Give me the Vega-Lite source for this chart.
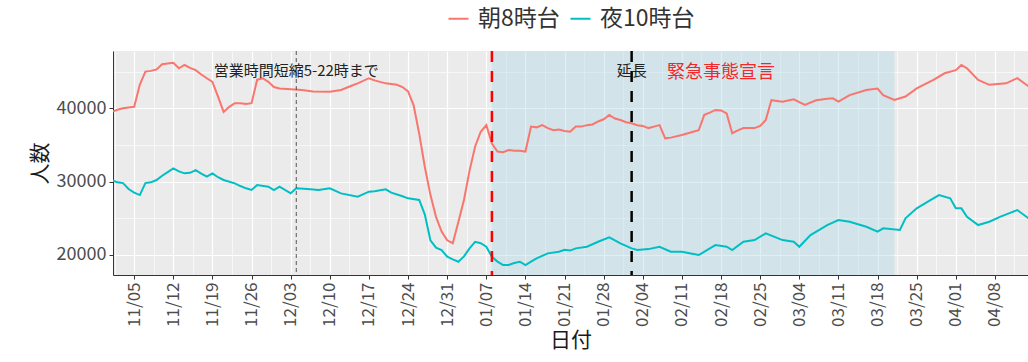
{
  "$schema": "https://vega.github.io/schema/vega-lite/v6.json",
  "width": 915,
  "height": 224,
  "autosize": {"type": "none"},
  "padding": {"left": 113, "top": 51, "right": 0, "bottom": 87},
  "background": "white",
  "config": {
    "font": "Noto Sans CJK JP",
    "view": {"fill": "#EBEBEB", "stroke": null},
    "axis": {"labelColor": "#4D4D4D", "tickColor": "#333333", "domainColor": "#333333", "titleColor": "#1A1A1A", "titleFontWeight": "normal"}
  },
  "resolve": {"axis": {"x": "independent", "y": "independent"}},
  "datasets": {
    "lines": [
      {"date": "2020-11-01", "series": "朝8時台", "count": 39500},
      {"date": "2020-11-02", "series": "朝8時台", "count": 39800},
      {"date": "2020-11-03", "series": "朝8時台", "count": 40000},
      {"date": "2020-11-04", "series": "朝8時台", "count": 40100},
      {"date": "2020-11-05", "series": "朝8時台", "count": 40200},
      {"date": "2020-11-06", "series": "朝8時台", "count": 43200},
      {"date": "2020-11-07", "series": "朝8時台", "count": 45000},
      {"date": "2020-11-08", "series": "朝8時台", "count": 45100},
      {"date": "2020-11-09", "series": "朝8時台", "count": 45300},
      {"date": "2020-11-10", "series": "朝8時台", "count": 46000},
      {"date": "2020-11-11", "series": "朝8時台", "count": 46100},
      {"date": "2020-11-12", "series": "朝8時台", "count": 46200},
      {"date": "2020-11-13", "series": "朝8時台", "count": 45450},
      {"date": "2020-11-14", "series": "朝8時台", "count": 45900},
      {"date": "2020-11-15", "series": "朝8時台", "count": 45500},
      {"date": "2020-11-16", "series": "朝8時台", "count": 45200},
      {"date": "2020-11-17", "series": "朝8時台", "count": 44600},
      {"date": "2020-11-18", "series": "朝8時台", "count": 44100},
      {"date": "2020-11-19", "series": "朝8時台", "count": 43600},
      {"date": "2020-11-20", "series": "朝8時台", "count": 41600},
      {"date": "2020-11-21", "series": "朝8時台", "count": 39500},
      {"date": "2020-11-22", "series": "朝8時台", "count": 40200},
      {"date": "2020-11-23", "series": "朝8時台", "count": 40700},
      {"date": "2020-11-24", "series": "朝8時台", "count": 40700},
      {"date": "2020-11-25", "series": "朝8時台", "count": 40600},
      {"date": "2020-11-26", "series": "朝8時台", "count": 40700},
      {"date": "2020-11-27", "series": "朝8時台", "count": 43900},
      {"date": "2020-11-28", "series": "朝8時台", "count": 44100},
      {"date": "2020-11-29", "series": "朝8時台", "count": 43600},
      {"date": "2020-11-30", "series": "朝8時台", "count": 42900},
      {"date": "2020-12-01", "series": "朝8時台", "count": 42700},
      {"date": "2020-12-03", "series": "朝8時台", "count": 42600},
      {"date": "2020-12-05", "series": "朝8時台", "count": 42500},
      {"date": "2020-12-07", "series": "朝8時台", "count": 42300},
      {"date": "2020-12-10", "series": "朝8時台", "count": 42250},
      {"date": "2020-12-12", "series": "朝8時台", "count": 42500},
      {"date": "2020-12-14", "series": "朝8時台", "count": 43100},
      {"date": "2020-12-15", "series": "朝8時台", "count": 43400},
      {"date": "2020-12-17", "series": "朝8時台", "count": 44100},
      {"date": "2020-12-18", "series": "朝8時台", "count": 43800},
      {"date": "2020-12-20", "series": "朝8時台", "count": 43400},
      {"date": "2020-12-22", "series": "朝8時台", "count": 43200},
      {"date": "2020-12-23", "series": "朝8時台", "count": 42900},
      {"date": "2020-12-24", "series": "朝8時台", "count": 42300},
      {"date": "2020-12-25", "series": "朝8時台", "count": 40400},
      {"date": "2020-12-26", "series": "朝8時台", "count": 36500},
      {"date": "2020-12-27", "series": "朝8時台", "count": 32000},
      {"date": "2020-12-28", "series": "朝8時台", "count": 28200},
      {"date": "2020-12-29", "series": "朝8時台", "count": 25200},
      {"date": "2020-12-30", "series": "朝8時台", "count": 23200},
      {"date": "2020-12-31", "series": "朝8時台", "count": 22000},
      {"date": "2021-01-01", "series": "朝8時台", "count": 21600},
      {"date": "2021-01-02", "series": "朝8時台", "count": 24500},
      {"date": "2021-01-03", "series": "朝8時台", "count": 27500},
      {"date": "2021-01-04", "series": "朝8時台", "count": 31500},
      {"date": "2021-01-05", "series": "朝8時台", "count": 34800},
      {"date": "2021-01-06", "series": "朝8時台", "count": 36800},
      {"date": "2021-01-07", "series": "朝8時台", "count": 37700},
      {"date": "2021-01-08", "series": "朝8時台", "count": 35200},
      {"date": "2021-01-09", "series": "朝8時台", "count": 34100},
      {"date": "2021-01-10", "series": "朝8時台", "count": 34000},
      {"date": "2021-01-11", "series": "朝8時台", "count": 34300},
      {"date": "2021-01-12", "series": "朝8時台", "count": 34200},
      {"date": "2021-01-13", "series": "朝8時台", "count": 34200},
      {"date": "2021-01-14", "series": "朝8時台", "count": 34100},
      {"date": "2021-01-15", "series": "朝8時台", "count": 37500},
      {"date": "2021-01-16", "series": "朝8時台", "count": 37400},
      {"date": "2021-01-17", "series": "朝8時台", "count": 37700},
      {"date": "2021-01-18", "series": "朝8時台", "count": 37300},
      {"date": "2021-01-19", "series": "朝8時台", "count": 37000},
      {"date": "2021-01-20", "series": "朝8時台", "count": 37100},
      {"date": "2021-01-21", "series": "朝8時台", "count": 36900},
      {"date": "2021-01-22", "series": "朝8時台", "count": 36800},
      {"date": "2021-01-23", "series": "朝8時台", "count": 37500},
      {"date": "2021-01-24", "series": "朝8時台", "count": 37500},
      {"date": "2021-01-25", "series": "朝8時台", "count": 37700},
      {"date": "2021-01-26", "series": "朝8時台", "count": 37800},
      {"date": "2021-01-27", "series": "朝8時台", "count": 38200},
      {"date": "2021-01-28", "series": "朝8時台", "count": 38500},
      {"date": "2021-01-29", "series": "朝8時台", "count": 39100},
      {"date": "2021-01-30", "series": "朝8時台", "count": 38600},
      {"date": "2021-01-31", "series": "朝8時台", "count": 38400},
      {"date": "2021-02-01", "series": "朝8時台", "count": 38100},
      {"date": "2021-02-02", "series": "朝8時台", "count": 37950},
      {"date": "2021-02-03", "series": "朝8時台", "count": 37700},
      {"date": "2021-02-04", "series": "朝8時台", "count": 37600},
      {"date": "2021-02-05", "series": "朝8時台", "count": 37300},
      {"date": "2021-02-06", "series": "朝8時台", "count": 37500},
      {"date": "2021-02-07", "series": "朝8時台", "count": 37700},
      {"date": "2021-02-08", "series": "朝8時台", "count": 35900},
      {"date": "2021-02-09", "series": "朝8時台", "count": 36000},
      {"date": "2021-02-11", "series": "朝8時台", "count": 36350},
      {"date": "2021-02-13", "series": "朝8時台", "count": 36800},
      {"date": "2021-02-14", "series": "朝8時台", "count": 37000},
      {"date": "2021-02-15", "series": "朝8時台", "count": 39100},
      {"date": "2021-02-16", "series": "朝8時台", "count": 39400},
      {"date": "2021-02-17", "series": "朝8時台", "count": 39770},
      {"date": "2021-02-18", "series": "朝8時台", "count": 39700},
      {"date": "2021-02-19", "series": "朝8時台", "count": 39300},
      {"date": "2021-02-20", "series": "朝8時台", "count": 36600},
      {"date": "2021-02-21", "series": "朝8時台", "count": 37000},
      {"date": "2021-02-22", "series": "朝8時台", "count": 37300},
      {"date": "2021-02-24", "series": "朝8時台", "count": 37300},
      {"date": "2021-02-25", "series": "朝8時台", "count": 37600},
      {"date": "2021-02-26", "series": "朝8時台", "count": 38400},
      {"date": "2021-02-27", "series": "朝8時台", "count": 41100},
      {"date": "2021-03-01", "series": "朝8時台", "count": 40900},
      {"date": "2021-03-03", "series": "朝8時台", "count": 41230},
      {"date": "2021-03-05", "series": "朝8時台", "count": 40450},
      {"date": "2021-03-07", "series": "朝8時台", "count": 41100},
      {"date": "2021-03-09", "series": "朝8時台", "count": 41300},
      {"date": "2021-03-10", "series": "朝8時台", "count": 41360},
      {"date": "2021-03-11", "series": "朝8時台", "count": 40900},
      {"date": "2021-03-13", "series": "朝8時台", "count": 41800},
      {"date": "2021-03-16", "series": "朝8時台", "count": 42500},
      {"date": "2021-03-18", "series": "朝8時台", "count": 42700},
      {"date": "2021-03-19", "series": "朝8時台", "count": 41800},
      {"date": "2021-03-21", "series": "朝8時台", "count": 41130},
      {"date": "2021-03-23", "series": "朝8時台", "count": 41600},
      {"date": "2021-03-25", "series": "朝8時台", "count": 42700},
      {"date": "2021-03-28", "series": "朝8時台", "count": 43860},
      {"date": "2021-03-30", "series": "朝8時台", "count": 44770},
      {"date": "2021-04-01", "series": "朝8時台", "count": 45200},
      {"date": "2021-04-02", "series": "朝8時台", "count": 45900},
      {"date": "2021-04-03", "series": "朝8時台", "count": 45450},
      {"date": "2021-04-05", "series": "朝8時台", "count": 43860},
      {"date": "2021-04-07", "series": "朝8時台", "count": 43200},
      {"date": "2021-04-10", "series": "朝8時台", "count": 43400},
      {"date": "2021-04-12", "series": "朝8時台", "count": 44100},
      {"date": "2021-04-14", "series": "朝8時台", "count": 43000},
      {"date": "2020-11-01", "series": "夜10時台", "count": 30200},
      {"date": "2020-11-02", "series": "夜10時台", "count": 29900},
      {"date": "2020-11-03", "series": "夜10時台", "count": 29800},
      {"date": "2020-11-04", "series": "夜10時台", "count": 29000},
      {"date": "2020-11-05", "series": "夜10時台", "count": 28500},
      {"date": "2020-11-06", "series": "夜10時台", "count": 28170},
      {"date": "2020-11-07", "series": "夜10時台", "count": 29800},
      {"date": "2020-11-08", "series": "夜10時台", "count": 29900},
      {"date": "2020-11-09", "series": "夜10時台", "count": 30220},
      {"date": "2020-11-10", "series": "夜10時台", "count": 30800},
      {"date": "2020-11-11", "series": "夜10時台", "count": 31300},
      {"date": "2020-11-12", "series": "夜10時台", "count": 31800},
      {"date": "2020-11-13", "series": "夜10時台", "count": 31400},
      {"date": "2020-11-14", "series": "夜10時台", "count": 31130},
      {"date": "2020-11-15", "series": "夜10時台", "count": 31200},
      {"date": "2020-11-16", "series": "夜10時台", "count": 31580},
      {"date": "2020-11-17", "series": "夜10時台", "count": 31100},
      {"date": "2020-11-18", "series": "夜10時台", "count": 30670},
      {"date": "2020-11-19", "series": "夜10時台", "count": 31130},
      {"date": "2020-11-20", "series": "夜10時台", "count": 30600},
      {"date": "2020-11-21", "series": "夜10時台", "count": 30220},
      {"date": "2020-11-23", "series": "夜10時台", "count": 29770},
      {"date": "2020-11-24", "series": "夜10時台", "count": 29400},
      {"date": "2020-11-25", "series": "夜10時台", "count": 29090},
      {"date": "2020-11-26", "series": "夜10時台", "count": 28860},
      {"date": "2020-11-27", "series": "夜10時台", "count": 29540},
      {"date": "2020-11-29", "series": "夜10時台", "count": 29310},
      {"date": "2020-11-30", "series": "夜10時台", "count": 28860},
      {"date": "2020-12-01", "series": "夜10時台", "count": 29310},
      {"date": "2020-12-03", "series": "夜10時台", "count": 28400},
      {"date": "2020-12-04", "series": "夜10時台", "count": 29090},
      {"date": "2020-12-06", "series": "夜10時台", "count": 29000},
      {"date": "2020-12-08", "series": "夜10時台", "count": 28860},
      {"date": "2020-12-10", "series": "夜10時台", "count": 29090},
      {"date": "2020-12-12", "series": "夜10時台", "count": 28400},
      {"date": "2020-12-15", "series": "夜10時台", "count": 27940},
      {"date": "2020-12-17", "series": "夜10時台", "count": 28630},
      {"date": "2020-12-18", "series": "夜10時台", "count": 28700},
      {"date": "2020-12-20", "series": "夜10時台", "count": 28950},
      {"date": "2020-12-21", "series": "夜10時台", "count": 28490},
      {"date": "2020-12-23", "series": "夜10時台", "count": 28000},
      {"date": "2020-12-24", "series": "夜10時台", "count": 27720},
      {"date": "2020-12-26", "series": "夜10時台", "count": 27500},
      {"date": "2020-12-27", "series": "夜10時台", "count": 25500},
      {"date": "2020-12-28", "series": "夜10時台", "count": 22000},
      {"date": "2020-12-29", "series": "夜10時台", "count": 21000},
      {"date": "2020-12-30", "series": "夜10時台", "count": 20670},
      {"date": "2020-12-31", "series": "夜10時台", "count": 19760},
      {"date": "2021-01-01", "series": "夜10時台", "count": 19400},
      {"date": "2021-01-02", "series": "夜10時台", "count": 19080},
      {"date": "2021-01-03", "series": "夜10時台", "count": 19800},
      {"date": "2021-01-04", "series": "夜10時台", "count": 20900},
      {"date": "2021-01-05", "series": "夜10時台", "count": 21800},
      {"date": "2021-01-06", "series": "夜10時台", "count": 21600},
      {"date": "2021-01-07", "series": "夜10時台", "count": 21120},
      {"date": "2021-01-08", "series": "夜10時台", "count": 19760},
      {"date": "2021-01-09", "series": "夜10時台", "count": 19100},
      {"date": "2021-01-10", "series": "夜10時台", "count": 18630},
      {"date": "2021-01-11", "series": "夜10時台", "count": 18630},
      {"date": "2021-01-12", "series": "夜10時台", "count": 18900},
      {"date": "2021-01-13", "series": "夜10時台", "count": 19080},
      {"date": "2021-01-14", "series": "夜10時台", "count": 18630},
      {"date": "2021-01-15", "series": "夜10時台", "count": 19100},
      {"date": "2021-01-16", "series": "夜10時台", "count": 19540},
      {"date": "2021-01-18", "series": "夜10時台", "count": 20220},
      {"date": "2021-01-20", "series": "夜10時台", "count": 20440},
      {"date": "2021-01-21", "series": "夜10時台", "count": 20700},
      {"date": "2021-01-22", "series": "夜10時台", "count": 20600},
      {"date": "2021-01-23", "series": "夜10時台", "count": 20900},
      {"date": "2021-01-25", "series": "夜10時台", "count": 21120},
      {"date": "2021-01-27", "series": "夜10時台", "count": 21800},
      {"date": "2021-01-29", "series": "夜10時台", "count": 22400},
      {"date": "2021-01-31", "series": "夜10時台", "count": 21580},
      {"date": "2021-02-02", "series": "夜10時台", "count": 20900},
      {"date": "2021-02-03", "series": "夜10時台", "count": 20670},
      {"date": "2021-02-05", "series": "夜10時台", "count": 20800},
      {"date": "2021-02-07", "series": "夜10時台", "count": 21120},
      {"date": "2021-02-09", "series": "夜10時台", "count": 20440},
      {"date": "2021-02-11", "series": "夜10時台", "count": 20440},
      {"date": "2021-02-14", "series": "夜10時台", "count": 19990},
      {"date": "2021-02-16", "series": "夜10時台", "count": 20900},
      {"date": "2021-02-17", "series": "夜10時台", "count": 21350},
      {"date": "2021-02-19", "series": "夜10時台", "count": 21120},
      {"date": "2021-02-20", "series": "夜10時台", "count": 20670},
      {"date": "2021-02-22", "series": "夜10時台", "count": 21800},
      {"date": "2021-02-24", "series": "夜10時台", "count": 22030},
      {"date": "2021-02-26", "series": "夜10時台", "count": 22950},
      {"date": "2021-03-01", "series": "夜10時台", "count": 22030},
      {"date": "2021-03-03", "series": "夜10時台", "count": 21800},
      {"date": "2021-03-04", "series": "夜10時台", "count": 21120},
      {"date": "2021-03-06", "series": "夜10時台", "count": 22720},
      {"date": "2021-03-09", "series": "夜10時台", "count": 24080},
      {"date": "2021-03-11", "series": "夜10時台", "count": 24760},
      {"date": "2021-03-13", "series": "夜10時台", "count": 24530},
      {"date": "2021-03-16", "series": "夜10時台", "count": 23850},
      {"date": "2021-03-18", "series": "夜10時台", "count": 23170},
      {"date": "2021-03-19", "series": "夜10時台", "count": 23630},
      {"date": "2021-03-22", "series": "夜10時台", "count": 23400},
      {"date": "2021-03-23", "series": "夜10時台", "count": 25000},
      {"date": "2021-03-25", "series": "夜10時台", "count": 26360},
      {"date": "2021-03-27", "series": "夜10時台", "count": 27260},
      {"date": "2021-03-29", "series": "夜10時台", "count": 28170},
      {"date": "2021-03-31", "series": "夜10時台", "count": 27720},
      {"date": "2021-04-01", "series": "夜10時台", "count": 26360},
      {"date": "2021-04-02", "series": "夜10時台", "count": 26360},
      {"date": "2021-04-03", "series": "夜10時台", "count": 25220},
      {"date": "2021-04-05", "series": "夜10時台", "count": 24080},
      {"date": "2021-04-07", "series": "夜10時台", "count": 24530},
      {"date": "2021-04-09", "series": "夜10時台", "count": 25220},
      {"date": "2021-04-12", "series": "夜10時台", "count": 26130},
      {"date": "2021-04-14", "series": "夜10時台", "count": 25000}
    ]
  },
  "layer": [
    {
      "data": {"values": [{"start": "2021-01-08", "end": "2021-03-21"}]},
      "mark": {"type": "rect", "color": "#ADD8E6", "opacity": 0.4},
      "encoding": {
        "x": {
          "field": "start", "type": "temporal",
          "scale": {"type": "utc", "domain": [{"year": 2020, "month": 11, "date": 1, "hours": 5, "utc": true}, {"year": 2021, "month": 4, "date": 13, "hours": 22, "utc": true}]},
          "axis": {
            "orient": "top", "title": null, "labels": false, "ticks": false, "domain": false,
            "grid": true, "gridColor": "white", "gridWidth": 0.6,
            "values": [
              {"year": 2020, "month": 11, "date": 1, "hours": 12, "utc": true},
              {"year": 2020, "month": 11, "date": 8, "hours": 12, "utc": true},
              {"year": 2020, "month": 11, "date": 15, "hours": 12, "utc": true},
              {"year": 2020, "month": 11, "date": 22, "hours": 12, "utc": true},
              {"year": 2020, "month": 11, "date": 29, "hours": 12, "utc": true},
              {"year": 2020, "month": 12, "date": 6, "hours": 12, "utc": true},
              {"year": 2020, "month": 12, "date": 13, "hours": 12, "utc": true},
              {"year": 2020, "month": 12, "date": 20, "hours": 12, "utc": true},
              {"year": 2020, "month": 12, "date": 27, "hours": 12, "utc": true},
              {"year": 2021, "month": 1, "date": 3, "hours": 12, "utc": true},
              {"year": 2021, "month": 1, "date": 10, "hours": 12, "utc": true},
              {"year": 2021, "month": 1, "date": 17, "hours": 12, "utc": true},
              {"year": 2021, "month": 1, "date": 24, "hours": 12, "utc": true},
              {"year": 2021, "month": 1, "date": 31, "hours": 12, "utc": true},
              {"year": 2021, "month": 2, "date": 7, "hours": 12, "utc": true},
              {"year": 2021, "month": 2, "date": 14, "hours": 12, "utc": true},
              {"year": 2021, "month": 2, "date": 21, "hours": 12, "utc": true},
              {"year": 2021, "month": 2, "date": 28, "hours": 12, "utc": true},
              {"year": 2021, "month": 3, "date": 7, "hours": 12, "utc": true},
              {"year": 2021, "month": 3, "date": 14, "hours": 12, "utc": true},
              {"year": 2021, "month": 3, "date": 21, "hours": 12, "utc": true},
              {"year": 2021, "month": 3, "date": 28, "hours": 12, "utc": true},
              {"year": 2021, "month": 4, "date": 4, "hours": 12, "utc": true},
              {"year": 2021, "month": 4, "date": 11, "hours": 12, "utc": true}
            ]
          }
        },
        "x2": {"field": "end"}
      }
    },
    {
      "data": {"name": "lines"},
      "mark": {"type": "line", "strokeWidth": 2, "clip": true},
      "encoding": {
        "x": {
          "field": "date", "type": "temporal", "title": "日付",
          "scale": {"type": "utc", "domain": [{"year": 2020, "month": 11, "date": 1, "hours": 5, "utc": true}, {"year": 2021, "month": 4, "date": 13, "hours": 22, "utc": true}]},
          "axis": {
            "orient": "bottom", "labelExpr": "utcFormat(datum.value, '%m/%d')", "labelAngle": -90,
            "labelFontSize": 17, "labelPadding": 3, "tickSize": 4, "titleFontSize": 21, "titlePadding": 3,
            "grid": true, "gridColor": "white", "gridWidth": 1.2, "domainWidth": 1,
            "values": [
              {"year": 2020, "month": 11, "date": 5, "utc": true},
              {"year": 2020, "month": 11, "date": 12, "utc": true},
              {"year": 2020, "month": 11, "date": 19, "utc": true},
              {"year": 2020, "month": 11, "date": 26, "utc": true},
              {"year": 2020, "month": 12, "date": 3, "utc": true},
              {"year": 2020, "month": 12, "date": 10, "utc": true},
              {"year": 2020, "month": 12, "date": 17, "utc": true},
              {"year": 2020, "month": 12, "date": 24, "utc": true},
              {"year": 2020, "month": 12, "date": 31, "utc": true},
              {"year": 2021, "month": 1, "date": 7, "utc": true},
              {"year": 2021, "month": 1, "date": 14, "utc": true},
              {"year": 2021, "month": 1, "date": 21, "utc": true},
              {"year": 2021, "month": 1, "date": 28, "utc": true},
              {"year": 2021, "month": 2, "date": 4, "utc": true},
              {"year": 2021, "month": 2, "date": 11, "utc": true},
              {"year": 2021, "month": 2, "date": 18, "utc": true},
              {"year": 2021, "month": 2, "date": 25, "utc": true},
              {"year": 2021, "month": 3, "date": 4, "utc": true},
              {"year": 2021, "month": 3, "date": 11, "utc": true},
              {"year": 2021, "month": 3, "date": 18, "utc": true},
              {"year": 2021, "month": 3, "date": 25, "utc": true},
              {"year": 2021, "month": 4, "date": 1, "utc": true},
              {"year": 2021, "month": 4, "date": 8, "utc": true}
            ]
          }
        },
        "y": {
          "field": "count", "type": "quantitative", "title": "人数",
          "scale": {"domain": [17270, 47810], "nice": false, "zero": false},
          "axis": {
            "orient": "left", "values": [20000, 30000, 40000], "format": "d",
            "labelFontSize": 18, "labelPadding": 3, "tickSize": 4, "titleFontSize": 21, "titlePadding": 6,
            "grid": true, "gridColor": "white", "gridWidth": 1.2, "domainWidth": 1
          }
        },
        "color": {
          "field": "series", "type": "nominal",
          "scale": {"domain": ["朝8時台", "夜10時台"], "range": ["#F8766D", "#00BFC4"]},
          "legend": {
            "title": null, "orient": "none", "direction": "horizontal", "legendX": 334, "legendY": -44,
            "symbolType": "stroke", "symbolSize": 400, "symbolStrokeWidth": 2,
            "labelFontSize": 23, "labelColor": "#333333", "labelOffset": 8, "columnPadding": 6
          }
        }
      }
    },
    {
      "data": {"values": [{"date": "2020-12-04"}]},
      "mark": {"type": "rule", "color": "#333333", "strokeWidth": 0.8, "strokeDash": [4, 3]},
      "encoding": {"x": {"field": "date", "type": "temporal", "axis": null}}
    },
    {
      "data": {"values": [{"date": "2021-01-08"}]},
      "mark": {"type": "rule", "color": "#FF0000", "strokeWidth": 2.5, "strokeDash": [11, 9]},
      "encoding": {"x": {"field": "date", "type": "temporal", "axis": null}}
    },
    {
      "data": {"values": [{"date": "2021-02-02"}]},
      "mark": {"type": "rule", "color": "#000000", "strokeWidth": 2.5, "strokeDash": [11, 9]},
      "encoding": {"x": {"field": "date", "type": "temporal", "axis": null}}
    },
    {
      "data": {"values": [
        {"date": "2020-12-04", "value": 45050, "label": "営業時間短縮5-22時まで"},
        {"date": "2021-02-02", "value": 45150, "label": "延長"}
      ]},
      "mark": {"type": "text", "fontSize": 15, "color": "#222222", "align": "center", "baseline": "middle"},
      "encoding": {
        "x": {"field": "date", "type": "temporal", "axis": null},
        "y": {
          "field": "value", "type": "quantitative",
          "scale": {"domain": [17270, 47810], "nice": false, "zero": false},
          "axis": {"orient": "right", "title": null, "labels": false, "ticks": false, "domain": false, "grid": true, "gridColor": "white", "gridWidth": 0.6, "values": [25000, 35000, 45000]}
        },
        "text": {"field": "label"}
      }
    },
    {
      "data": {"values": [{"date": "2021-02-18", "value": 44800, "label": "緊急事態宣言"}]},
      "mark": {"type": "text", "fontSize": 18, "color": "#F0282D", "align": "center", "baseline": "middle"},
      "encoding": {
        "x": {"field": "date", "type": "temporal", "axis": null},
        "y": {"field": "value", "type": "quantitative", "axis": null},
        "text": {"field": "label"}
      }
    }
  ]
}
